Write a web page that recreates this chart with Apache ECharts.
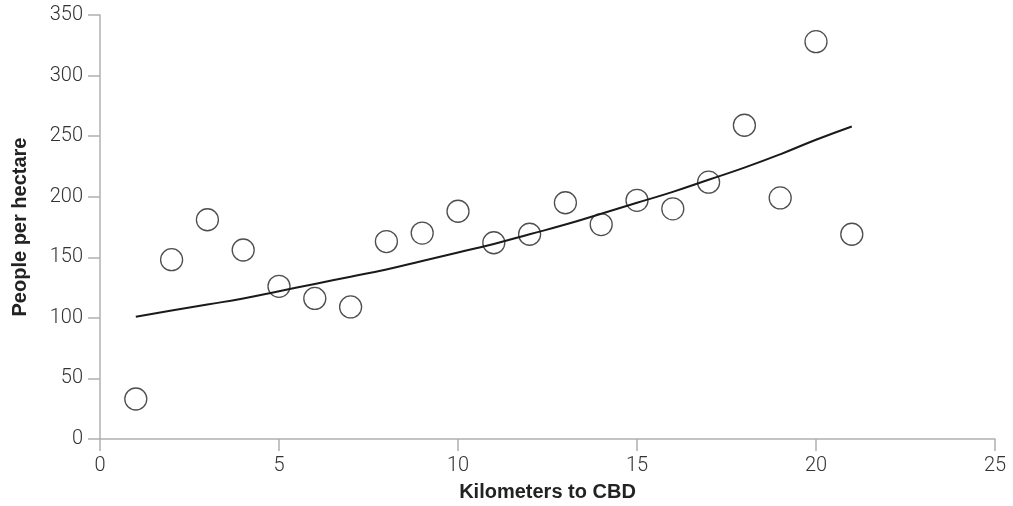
<!DOCTYPE html>
<html>
<head>
<meta charset="utf-8">
<script src="https://cdn.jsdelivr.net/npm/echarts@6/dist/echarts.min.js"></script>
<style>html,body{margin:0;padding:0;background:#fff;}#c{width:1013px;height:506px;}</style>
</head>
<body>
<div id="c"></div>
<script>
const kilometers = [1,2,3,4,5,6,7,8,9,10,11,12,13,14,15,16,17,18,19,20,21];
const density = [33,148,181,156,126,116,109,163,170,188,162,169,195,177,197,190,212,259,199,328,169];
const trendX = [1,2,3,4,5,6,7,8,9,10,11,12,13,14,15,16,17,18,19,20,21];
const trendY = [101,106,111,116,122,128,134,140,147,154,161,169,177,186,195,204,214,224,235,247,258];
const xTicks = [0,5,10,15,20,25];
const yTicks = [0,50,100,150,200,250,300,350];

const chart = echarts.init(document.getElementById('c'), null, {renderer:'canvas'});
const axisCol = '#b0b0b0';
chart.setOption({
  animation:false,
  backgroundColor:'#fff',
  grid:{left:100,right:18,top:15,bottom:67,containLabel:false,outerBoundsMode:'none'},
  xAxis:{
    type:'value',min:xTicks[0],max:xTicks[xTicks.length-1],interval:5,
    name:'Kilometers to CBD',nameLocation:'middle',nameGap:43,
    nameTextStyle:{fontFamily:'Liberation Sans',fontWeight:'bold',fontSize:20,color:'#222'},
    axisLine:{show:true,lineStyle:{color:axisCol,width:1.5}},
    axisTick:{show:true,length:12,lineStyle:{color:axisCol,width:1.5}},
    axisLabel:{margin:17,fontFamily:'Roboto',fontWeight:300,fontSize:20,color:'#333'},
    splitLine:{show:false}
  },
  yAxis:{
    type:'value',min:yTicks[0],max:yTicks[yTicks.length-1],interval:50,
    name:'People per hectare',nameLocation:'middle',nameGap:70,
    nameTextStyle:{fontFamily:'Liberation Sans',fontWeight:'bold',fontSize:20,color:'#222'},
    axisLine:{show:true,lineStyle:{color:axisCol,width:1.5}},
    axisTick:{show:true,length:12,lineStyle:{color:axisCol,width:1.5}},
    axisLabel:{margin:17,fontFamily:'Roboto',fontWeight:300,fontSize:20,color:'#333',padding:[5,0,0,0]},
    splitLine:{show:false}
  },
  series:[
    {
      type:'scatter',z:2,
      data:kilometers.map((k,i)=>[k,density[i]]),
      symbol:'circle',symbolSize:22,
      itemStyle:{color:'#fff',borderColor:'#222',borderWidth:1.3}
    },
    {
      type:'line',z:3,smooth:0.5,showSymbol:false,symbol:'none',
      data:trendX.map((k,i)=>[k,trendY[i]]),
      lineStyle:{color:'#1a1a1a',width:2}
    }
  ]
});
</script>
</body>
</html>
